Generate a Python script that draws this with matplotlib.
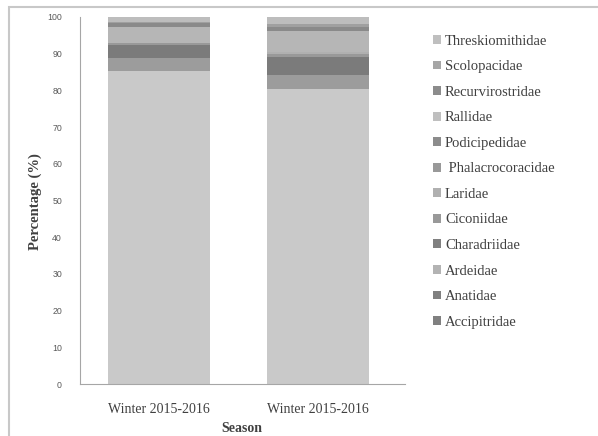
import matplotlib
matplotlib.use("Agg")
import matplotlib.pyplot as plt
from matplotlib.patches import Rectangle, Patch

seasons = ["Winter 2015-2016", "Winter 2015-2016"]
families = ["Accipitridae", "Anatidae", "Ardeidae", "Charadriidae", "Ciconiidae",
            "Laridae", "Phalacrocoracidae", "Podicipedidae", "Rallidae",
            "Recurvirostridae", "Scolopacidae", "Threskiomithidae"]
values_bar1 = [0.0, 85.2, 3.7, 3.4, 0.6, 0.0, 4.4, 1.1, 0.3, 0.0, 0.0, 1.3]
values_bar2 = [0.0, 80.5, 3.8, 4.8, 0.9, 0.5, 5.7, 1.1, 0.7, 0.0, 0.0, 2.0]
colors = ["#808080", "#c9c9c9", "#9c9c9c", "#7b7b7b", "#999999", "#b0b0b0",
          "#b6b6b6", "#8a8a8a", "#a0a0a0", "#8c8c8c", "#a6a6a6", "#bdbdbd"]
legend_colors = ["#808080", "#808080", "#b3b3b3", "#808080", "#999999", "#b0b0b0",
                 "#999999", "#8c8c8c", "#bfbfbf", "#8c8c8c", "#a6a6a6", "#bfbfbf"]
yticks = [0, 10, 20, 30, 40, 50, 60, 70, 80, 90, 100]

W, H = 598, 436
fig = plt.figure(figsize=(W / 100, H / 100), dpi=100)
fig.patch.set_facecolor("white")

# outer frame
fig.patches.append(Rectangle((8.5 / W, -0.1), 1.2, 1.1 - 7.5 / H,
                             transform=fig.transFigure, fill=False,
                             edgecolor="#c8c8c8", linewidth=1.5))

ax = fig.add_axes([80 / W, 1 - 384 / H, 325 / W, (384 - 17) / H])
x = [0, 1]
bottoms = [0.0, 0.0]
for i, fam in enumerate(families):
    vals = [values_bar1[i], values_bar2[i]]
    ax.bar(x, vals, width=0.64, bottom=bottoms, color=colors[i], linewidth=0)
    bottoms = [bottoms[j] + vals[j] for j in range(2)]

ax.set_xlim(-0.497, 1.547)
ax.set_ylim(0, 100)
ax.set_yticks(yticks)
ax.set_yticklabels([str(t) for t in yticks], fontsize=6.3, color="#595959",
                   fontfamily="Liberation Sans")
ax.set_xticks(x)
ax.set_xticklabels(seasons, fontsize=10, color="#404040", fontfamily="Liberation Serif")
ax.tick_params(axis="both", length=0)
ax.tick_params(axis="y", pad=13)
ax.tick_params(axis="x", pad=14)
for s in ["top", "right"]:
    ax.spines[s].set_visible(False)
for s in ["left", "bottom"]:
    ax.spines[s].set_color("#a6a6a6")
    ax.spines[s].set_linewidth(0.8)

fig.text(242 / W, 1 - 428 / H, "Season", fontsize=10, fontweight="bold",
         fontfamily="Liberation Serif", color="#404040", ha="center", va="center")
fig.text(35 / W, 1 - 202 / H, "Percentage (%)", fontsize=10.5, fontweight="bold",
         fontfamily="Liberation Serif", color="#404040", ha="center", va="center",
         rotation=90)

handles = [Patch(facecolor=legend_colors[i], edgecolor="none") for i in range(len(families))]
labels = list(families)
labels[6] = " " + labels[6]
leg = fig.legend(handles[::-1], labels[::-1], loc="upper left",
                 bbox_to_anchor=(421 / W, 1 - 23 / H), frameon=False,
                 prop={"family": "Liberation Serif", "size": 10.5},
                 handlelength=0.55, handleheight=0.55, handletextpad=0.3,
                 labelspacing=0.86, labelcolor="#404040", borderpad=0.3)

fig.savefig("out.png", dpi=100, facecolor="white")
